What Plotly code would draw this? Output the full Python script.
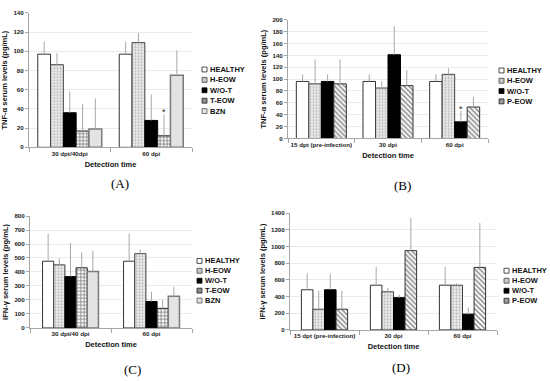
import plotly.graph_objects as go

W, H = 550, 381

# ---------------- DATA ----------------
# Panel A: TNF-alpha, 5 groups
cats_A = ["30 dpt/40dpi", "60 dpi"]
A_HEALTHY = [97, 97]
A_HEOW = [86, 109]
A_WOT = [36, 28]
A_TEOW = [17, 12]
A_BZN = [19, 75]
A_HEALTHY_err = [13, 13]
A_HEOW_err = [12, 10]
A_WOT_err = [22, 27]
A_TEOW_err = [28, 22]
A_BZN_err = [32, 26]

# Panel B: TNF-alpha, 4 groups
cats_B = ["15 dpt (pre-infection)", "30 dpi", "60 dpi"]
B_HEALTHY = [96, 96, 96]
B_HEOW = [92, 85, 108]
B_WOT = [96, 141, 28]
B_PEOW = [92, 89, 53]
B_HEALTHY_err = [12, 12, 12]
B_HEOW_err = [41, 11, 10]
B_WOT_err = [12, 48, 19]
B_PEOW_err = [41, 26, 17]

# Panel C: IFN-gamma, 5 groups
cats_C = ["30 dpt/40 dpi", "60 dpi"]
C_HEALTHY = [477, 477]
C_HEOW = [451, 531]
C_WOT = [367, 189]
C_TEOW = [430, 140]
C_BZN = [403, 226]
C_HEALTHY_err = [197, 197]
C_HEOW_err = [47, 30]
C_WOT_err = [240, 71]
C_TEOW_err = [110, 63]
C_BZN_err = [150, 68]

# Panel D: IFN-gamma, 4 groups
cats_D = ["15 dpt (pre-infection)", "30 dpi", "60 dpi"]
D_HEALTHY = [481, 536, 536]
D_HEOW = [248, 457, 536]
D_WOT = [481, 386, 189]
D_PEOW = [248, 950, 749]
D_HEALTHY_err = [197, 217, 217]
D_HEOW_err = [221, 43, 24]
D_WOT_err = [197, 36, 79]
D_PEOW_err = [221, 390, 532]

names5 = ["HEALTHY", "H-EOW", "W/O-T", "T-EOW", "BZN"]
names4 = ["HEALTHY", "H-EOW", "W/O-T", "P-EOW"]

# ---------------- STYLES ----------------
bar_style = {
    "HEALTHY": dict(color="white", line=dict(color="#333333", width=1)),
    "H-EOW": dict(color="white", line=dict(color="#444444", width=1),
                  pattern=dict(shape=".", fgcolor="#8a8a8a", bgcolor="#f2f2f2", size=3, solidity=0.45)),
    "W/O-T": dict(color="black", line=dict(color="black", width=1)),
    "T-EOW": dict(color="white", line=dict(color="#222222", width=1),
                  pattern=dict(shape="+", fgcolor="black", bgcolor="white", size=3.5, solidity=0.45)),
    "BZN": dict(color="#e3e3e3", line=dict(color="#7a7a7a", width=1.5)),
    "P-EOW": dict(color="white", line=dict(color="#333333", width=1),
                  pattern=dict(shape="\\", fgcolor="#222222", bgcolor="white", size=3.5, solidity=0.45)),
}
legend_fill = {
    "HEALTHY": ("white", "#222"),
    "H-EOW": ("#c8c8c8", "#444"),
    "W/O-T": ("black", "black"),
    "T-EOW": ("#8c8c8c", "#222"),
    "BZN": ("#e0e0e0", "#555"),
    "P-EOW": ("#9a9a9a", "#222"),
}

def px_x(p):
    return p / W

def px_y(p):
    return 1 - p / H

fig = go.Figure()

panels = [
    ("A", cats_A, names5, [A_HEALTHY, A_HEOW, A_WOT, A_TEOW, A_BZN],
     [A_HEALTHY_err, A_HEOW_err, A_WOT_err, A_TEOW_err, A_BZN_err], "",
     (29, 192), (9, 146), 140, 20, 0.785, "TNF-α serum levels (pg/mL)"),
    ("B", cats_B, names4, [B_HEALTHY, B_HEOW, B_WOT, B_PEOW],
     [B_HEALTHY_err, B_HEOW_err, B_WOT_err, B_PEOW_err], "2",
     (288, 488), (16, 137), 200, 20, 0.75, "TNF-α serum levels (pg/mL)"),
    ("C", cats_C, names5, [C_HEALTHY, C_HEOW, C_WOT, C_TEOW, C_BZN],
     [C_HEALTHY_err, C_HEOW_err, C_WOT_err, C_TEOW_err, C_BZN_err], "3",
     (30, 192), (216, 330), 800, 100, 0.69, "IFN-γ serum levels (pg/mL)"),
    ("D", cats_D, names4, [D_HEALTHY, D_HEOW, D_WOT, D_PEOW],
     [D_HEALTHY_err, D_HEOW_err, D_WOT_err, D_PEOW_err], "4",
     (290, 497), (213, 332), 1400, 200, 0.67, "IFN-γ serum levels (pg/mL)"),
]

tickfont = dict(family="Liberation Sans", size=6.2, color="#222222", weight="bold")
titlefont = dict(family="Liberation Sans", size=7.5, color="#111111", weight="bold")

offsets = {}
for key, cats, names, vals, errs, sfx, xd, yd, ymax, dtick, gw, ytitle in panels:
    n = len(names)
    w = gw / n
    offsets[key] = (gw, w)
    for i, (nm, v, e) in enumerate(zip(names, vals, errs)):
        st = bar_style[nm]
        fig.add_trace(go.Bar(
            x=cats, y=v, name=nm, showlegend=False,
            xaxis="x" + sfx, yaxis="y" + sfx,
            width=w, offset=-gw / 2 + i * w,
            marker=st,
            error_y=dict(type="data", symmetric=False, array=e, arrayminus=[0] * len(e),
                         color="#a8a8a8", thickness=1, width=0),
        ))
    xa = dict(domain=[px_x(xd[0]), px_x(xd[1])], anchor="y" + sfx, type="category",
              range=[-0.5, len(cats) - 0.5], showline=True, linecolor="#a6a6a6", linewidth=1,
              ticks="outside", tickson="boundaries", ticklen=4, tickcolor="#a6a6a6",
              tickfont=tickfont, tickangle=0, showgrid=False,
              title=dict(text="Detection time", font=titlefont, standoff=5))
    ya = dict(domain=[px_y(yd[1]), px_y(yd[0])], anchor="x" + sfx, range=[0, ymax], dtick=dtick,
              showline=True, linecolor="#a6a6a6", linewidth=1, ticks="outside", ticklen=3,
              tickcolor="#a6a6a6", tickfont=tickfont, showgrid=True, gridcolor="#ebebeb",
              gridwidth=1, zeroline=False,
              title=dict(text=ytitle, font=titlefont, standoff=4))
    fig.layout["xaxis" + sfx] = xa
    fig.layout["yaxis" + sfx] = ya

annotations = []
shapes = []

# significance asterisks
gwA, wA = offsets["A"]
annotations.append(dict(x=1 - gwA / 2 + 3.5 * wA, y=A_TEOW[1] + A_TEOW_err[1] + 3, xref="x", yref="y",
                        text="*", showarrow=False, font=dict(size=9, color="#222", family="Liberation Sans")))
gwB, wB = offsets["B"]
annotations.append(dict(x=2 - gwB / 2 + 2.5 * wB, y=B_WOT[2] + B_WOT_err[2] + 2, xref="x2", yref="y2",
                        text="*", showarrow=False, font=dict(size=9, color="#222", family="Liberation Sans")))

# compact legends
legends = [
    (names5, 202, 66.7, 10.6),
    (names4, 499, 67.7, 10.5),
    (names5, 197, 261.7, 10.1),
    (names4, 504, 271.7, 10.2),
]
for names, lx, ly, dy in legends:
    for i, nm in enumerate(names):
        cy = ly + i * dy
        fill, edge = legend_fill[nm]
        shapes.append(dict(type="rect", xref="paper", yref="paper",
                           x0=px_x(lx), x1=px_x(lx + 5), y0=px_y(cy + 2.5), y1=px_y(cy - 2.5),
                           fillcolor=fill, line=dict(color=edge, width=0.8)))
        annotations.append(dict(x=px_x(lx + 5.5), y=px_y(cy), xref="paper", yref="paper",
                                xanchor="left", yanchor="middle", text=nm, showarrow=False,
                                font=dict(family="Liberation Sans", size=7.5, color="#111", weight="bold")))

# panel labels
for lbl, x, y in [("(A)", 120, 183), ("(B)", 402, 185), ("(C)", 132, 372), ("(D)", 401, 370)]:
    annotations.append(dict(x=px_x(x), y=px_y(y), xref="paper", yref="paper", text=lbl,
                            showarrow=False, xanchor="center", yanchor="middle",
                            font=dict(family="Liberation Serif", size=13, color="black")))

fig.update_layout(
    width=W, height=H, margin=dict(l=0, r=0, t=0, b=0),
    paper_bgcolor="white", plot_bgcolor="white",
    barmode="overlay", showlegend=False,
    annotations=annotations, shapes=shapes,
)

fig.write_html("out.html", config={"displayModeBar": False},
               post_script="document.body.style.margin='0';document.body.style.overflow='hidden';")
